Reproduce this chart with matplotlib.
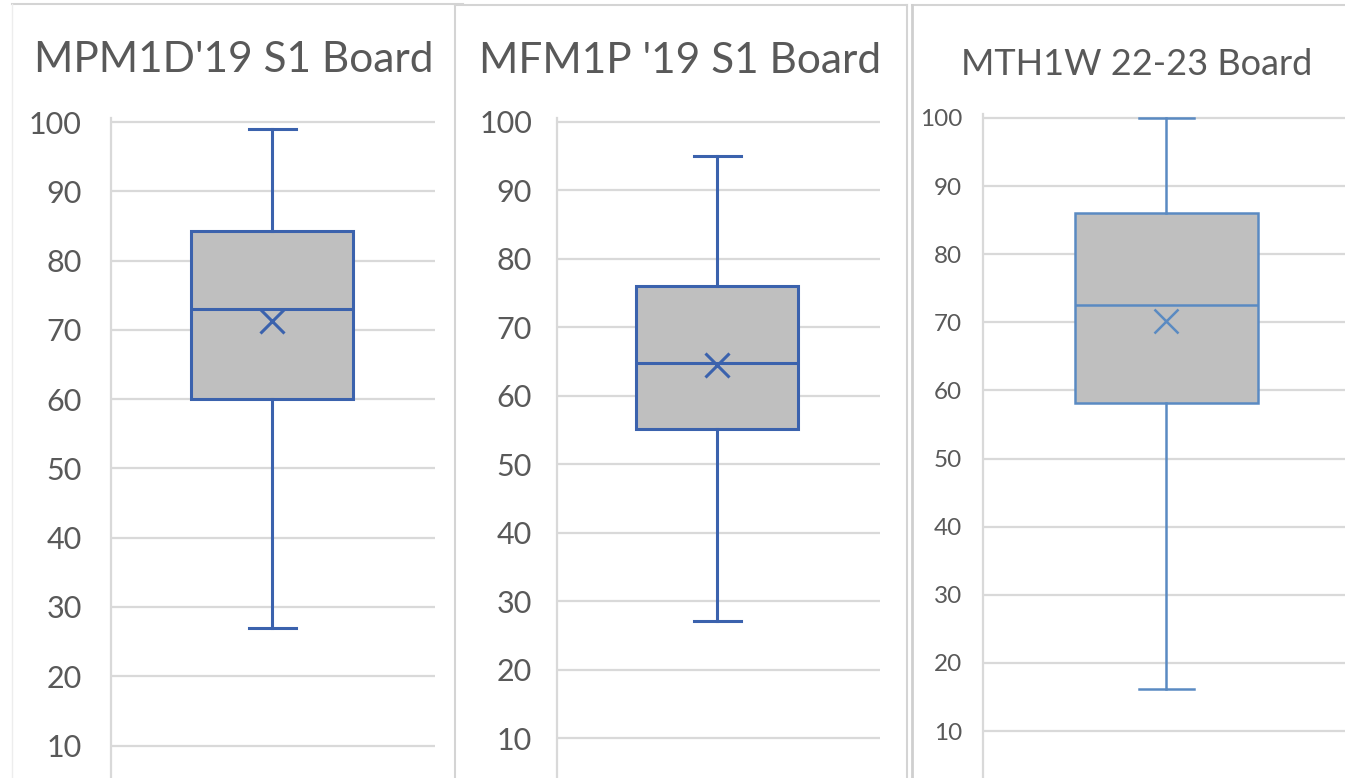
import matplotlib
matplotlib.use("Agg")
import matplotlib.pyplot as plt
from matplotlib.lines import Line2D

# ---- data ----
titles = ["MPM1D'19 S1 Board", "MFM1P '19 S1 Board", "MTH1W 22-23 Board"]
whisker_low = [27.0, 27.1, 16.1]
q1 = [60.0, 55.1, 58.2]
median = [73.0, 64.8, 72.6]
q3 = [84.3, 76.0, 86.0]
whisker_high = [99.0, 95.0, 100.0]
mean = [71.3, 64.5, 70.2]
ytick_values = [10, 20, 30, 40, 50, 60, 70, 80, 90, 100]

W, H = 1345, 778
fig = plt.figure(figsize=(W / 100, H / 100), dpi=100)
fig.patch.set_facecolor("white")
FONT = ["Lato", "DejaVu Sans"]
TXT = "#595959"
GRID = "#D9D9D9"

# layout per panel (pixels)
layouts = [
    dict(L=111, R=435, y100=122, y10=745.5, cx=272, bw=162, capw=47, color="#3B62AD", lw=2.2,
         tfs=22, tpad=21, title_x=234, title_y=72, title_fs=30.5),
    dict(L=557, R=880, y100=121.7, y10=738, cx=717, bw=162, capw=47, color="#3B62AD", lw=2.2,
         tfs=22, tpad=18, title_x=680, title_y=73, title_fs=30.5),
    dict(L=983, R=1345, y100=118, y10=731, cx=1166, bw=183, capw=55, color="#5A8AC2", lw=1.8,
         tfs=17.5, tpad=15, title_x=1137, title_y=75, title_fs=26),
]

for i, lay in enumerate(layouts):
    ppu = (lay["y10"] - lay["y100"]) / 90.0
    top_px = lay["y100"] - 4
    bot_px = H
    ax = fig.add_axes([lay["L"] / W, 1 - bot_px / H, (lay["R"] - lay["L"]) / W, (bot_px - top_px) / H])
    ax.set_ylim(100 - (bot_px - lay["y100"]) / ppu, 100 + 4 / ppu)
    ax.set_xlim(lay["L"] - lay["cx"], lay["R"] - lay["cx"])
    stats = [dict(whislo=whisker_low[i], q1=q1[i], med=median[i], q3=q3[i],
                  whishi=whisker_high[i], mean=mean[i], fliers=[])]
    c = lay["color"]
    ax.bxp(stats, positions=[0], widths=[lay["bw"]], capwidths=[lay["capw"]],
           showmeans=True, meanline=False, patch_artist=True, showfliers=False,
           boxprops=dict(facecolor="#BFBFBF", edgecolor=c, linewidth=lay["lw"]),
           medianprops=dict(color=c, linewidth=lay["lw"]),
           whiskerprops=dict(color=c, linewidth=lay["lw"]),
           capprops=dict(color=c, linewidth=lay["lw"]),
           meanprops=dict(marker="x", markersize=17, markeredgecolor=c,
                          markeredgewidth=lay["lw"], markerfacecolor=c),
           zorder=3)
    ax.set_yticks(ytick_values)
    ax.set_yticklabels([str(v) for v in ytick_values], fontsize=lay["tfs"], color=TXT,
                       family=FONT)
    ax.tick_params(axis="y", length=0, pad=lay["tpad"])
    ax.set_xticks([])
    ax.grid(axis="y", color=GRID, linewidth=1.6, zorder=0)
    ax.set_axisbelow(True)
    for s in ["top", "right", "bottom"]:
        ax.spines[s].set_visible(False)
    ax.spines["left"].set_color(GRID)
    ax.spines["left"].set_linewidth(1.6)
    ax.patch.set_alpha(0)
    fig.text(lay["title_x"] / W, 1 - lay["title_y"] / H, titles[i], ha="center", va="baseline",
             fontsize=lay["title_fs"], color=TXT, family=FONT)

# screenshot panel borders (decoration)
def fline(x0, y0, x1, y1, color="#D4D4D4", lw=1.5):
    fig.add_artist(Line2D([x0 / W, x1 / W], [1 - y0 / H, 1 - y1 / H], color=color, linewidth=lw,
                          transform=fig.transFigure))

fline(12, 4, 463, 4)
fline(12, 4, 12, H, color="#EDEDED", lw=1)
fline(455, 6, 455, H)
fline(455, 5, 907, 5)
fline(907, 5, 907, H)
fline(912, 5, 1345, 5)
fline(912, 5, 912, H, color="#CFCFCF", lw=2)

fig.savefig("out.png", dpi=100, facecolor="white")
